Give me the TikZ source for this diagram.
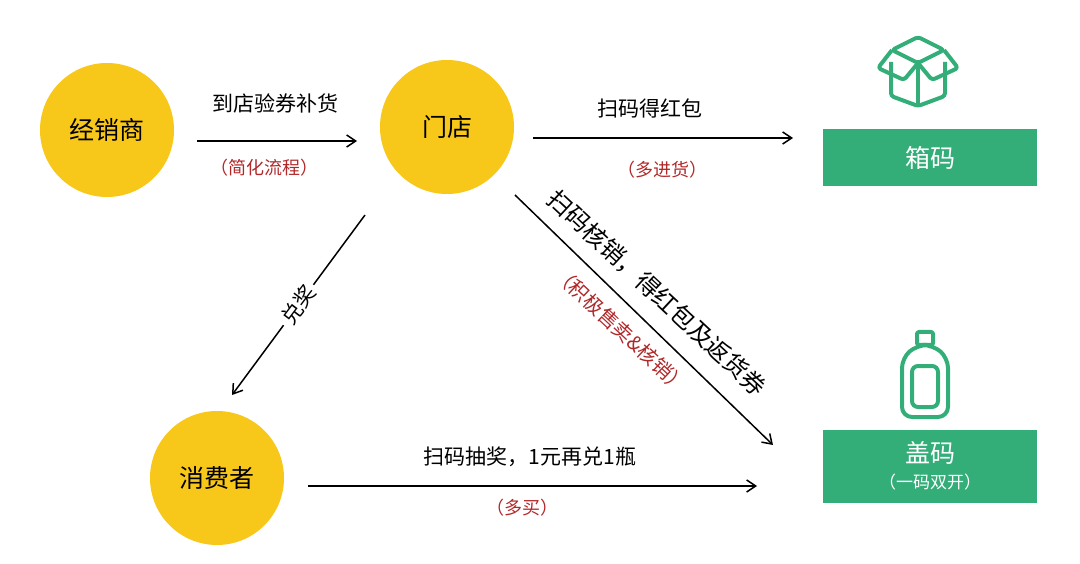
\documentclass[tikz,border=0pt]{standalone}
\usepackage{fontspec}
\setmainfont{Noto Sans CJK SC}
\usetikzlibrary{positioning,arrows.meta}
\definecolor{gold}{HTML}{F7C719}
\definecolor{codegreen}{HTML}{34AE79}
\definecolor{notered}{HTML}{B0282A}
\tikzset{
  actor/.style={circle,fill=gold,minimum size=134pt,inner sep=0pt,font=\fontsize{25}{28}\selectfont},
  codebox/.style={fill=codegreen,text=white,minimum width=214pt,inner sep=0pt,font=\fontsize{25}{28}\selectfont},
  flow/.style={-{Straight Barb[length=9pt,width=12pt]},line width=1.5pt},
  label/.style={font=\fontsize{21}{24}\selectfont},
  note/.style={font=\fontsize{18}{21}\selectfont,text=notered},
  icon/.style={draw=codegreen,line width=4pt,line join=round,rounded corners=3pt}
}
\begin{document}
\begin{tikzpicture}[x=1pt,y=-1pt]
\useasboundingbox (0,0) rectangle (1080,564);

% actors
\node[actor] (dealer) at (107,130) {经销商};
\node[actor] (store) at (447,127) {门店};
\node[actor] (buyer) at (217,478) {消费者};

% codes
\node[codebox,minimum height=57pt] (boxcode) at (930,158) {箱码};
\node[codebox,minimum height=73pt,align=center] (capcode) at (930,466)
  {\fontsize{25}{26}\selectfont 盖码\\[-2pt]\fontsize{17}{20}\selectfont（一码双开）};

% icons
\draw[icon] (918,37) -- (944,50) -- (918,63) -- (892,50) -- cycle;
\draw[icon] (891,62) -- (891,96) -- (918,106) -- (945,96) -- (945,62);
\draw[icon] (918,63) -- (918,106);
\draw[icon] (892,50) -- (878,68) -- (904,80) -- (918,63);
\draw[icon] (944,50) -- (958,68) -- (932,80) -- (918,63);
\draw[icon,rounded corners=2pt] (917,345) rectangle (933,332);
\draw[icon,rounded corners=10pt] (917,345) -- (902,358) -- (902,417) -- (948,417) -- (948,358) -- (933,345) -- cycle;
\draw[icon,rounded corners=6pt] (912,366) rectangle (938,407);

% connectors
\coordinate (a1) at (197,141); \coordinate (a2) at (357,141);
\coordinate (b1) at (533,138); \coordinate (b2) at (793,138);
\coordinate (c1) at (515,195); \coordinate (c2) at (773,445);
\coordinate (d1) at (365,215); \coordinate (d2) at (232,395);
\coordinate (e1) at (308,486); \coordinate (e2) at (757,486);

\draw[flow] (a1) -- (a2);
\node[label] (alab) at (275,103) {到店验券补货};
\node[note] (anote) at (264,168) {（简化流程）};

\draw[flow] (b1) -- (b2);
\node[label] (blab) at (650,108) {扫码得红包};
\node[note] (bnote) at (662,170) {（多进货）};

\draw[flow] (c1) -- (c2);
\node[label,rotate=-43,font=\fontsize{24}{26}\selectfont] (clab) at (657,293) {扫码核销，得红包及返货券};
\node[note,rotate=-43,font=\fontsize{20}{22}\selectfont] (cnote) at (621,330) {（积极售卖\&核销）};

\draw[flow] (d1) -- node[label,fill=white,rotate=53,inner sep=4pt] (dlab) {兑奖} (d2);

\draw[flow] (e1) -- (e2);
\node[label] (elab) at (530,457) {扫码抽奖，1元再兑1瓶};
\node[note] (enote) at (522,508) {（多买）};
\end{tikzpicture}
\end{document}
